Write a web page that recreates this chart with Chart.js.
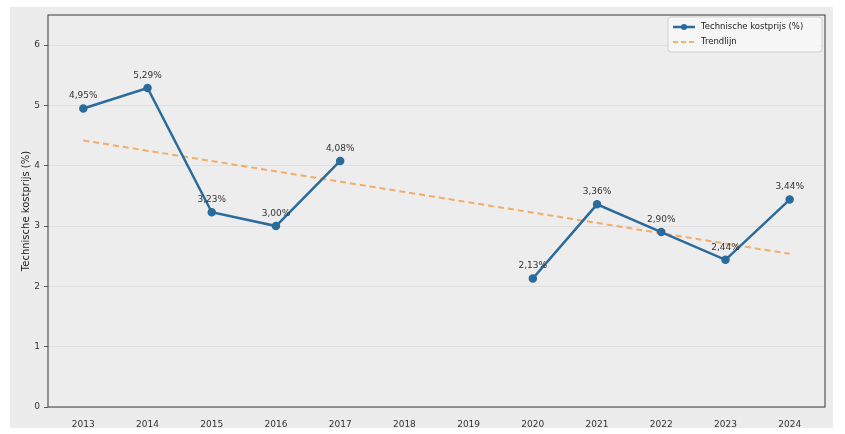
<!DOCTYPE html>
<html>
<head>
<meta charset="utf-8">
<script src="https://cdn.jsdelivr.net/npm/chart.js@4"></script>
<style>
  html, body { margin: 0; padding: 0; background: #ffffff; }
  #wrap { width: 845px; height: 434px; position: relative; }
</style>
</head>
<body>
<div id="wrap"><canvas id="myChart" width="845" height="434"></canvas></div>
<script>
// Data-----
const years = [2013, 2014, 2015, 2016, 2017, 2018, 2019, 2020, 2021, 2022, 2023, 2024];
const kostprijs = [4.95, 5.29, 3.23, 3.00, 4.08, null, null, 2.13, 3.36, 2.90, 2.44, 3.44];
const trendYears = [2013, 2024];
const trendValues = [4.42, 2.54];
const yTicks = [0, 1, 2, 3, 4, 5, 6];
// Data-----

const blue = '#2a6b9c';
const orange = 'rgba(245,150,60,0.75)';
const tickFont = {family: 'DejaVu Sans', size: 9};

// panel background + plot frame
const backdrop = {
    id: 'backdrop',
    beforeDraw(chart) {
        const ctx = chart.ctx;
        const a = chart.chartArea;
        ctx.save();
        ctx.fillStyle = '#ececec';
        ctx.fillRect(10, 7, 823, 421);
        ctx.fillStyle = '#ededed';
        ctx.fillRect(a.left, a.top, a.right - a.left, a.bottom - a.top);
        ctx.restore();
    },
    afterDraw(chart) {
        const ctx = chart.ctx;
        const a = chart.chartArea;
        ctx.save();
        ctx.strokeStyle = '#555555';
        ctx.lineWidth = 1.2;
        ctx.strokeRect(a.left, a.top, a.right - a.left, a.bottom - a.top);
        ctx.restore();
    }
};

// value labels above the points
const valueLabels = {
    id: 'valueLabels',
    afterDatasetsDraw(chart) {
        const ctx = chart.ctx;
        const meta = chart.getDatasetMeta(0);
        ctx.save();
        ctx.font = '9px "DejaVu Sans"';
        ctx.fillStyle = '#333333';
        ctx.textAlign = 'center';
        ctx.textBaseline = 'bottom';
        meta.data.forEach((pt, i) => {
            const v = kostprijs[i];
            if (v === null) return;
            ctx.fillText(v.toFixed(2).replace('.', ',') + '%', pt.x, pt.y - 8);
        });
        ctx.restore();
    }
};

// legend box in the upper right corner
const cornerLegend = {
    id: 'cornerLegend',
    afterDraw(chart) {
        const ctx = chart.ctx;
        const x = 668, y = 17, w = 154, h = 35;
        ctx.save();
        ctx.fillStyle = 'rgba(246,246,246,0.9)';
        ctx.strokeStyle = '#cfcfcf';
        ctx.lineWidth = 1;
        ctx.beginPath();
        ctx.roundRect(x, y, w, h, 3);
        ctx.fill();
        ctx.stroke();

        ctx.strokeStyle = blue;
        ctx.lineWidth = 2.5;
        ctx.beginPath();
        ctx.moveTo(673, 27);
        ctx.lineTo(695, 27);
        ctx.stroke();
        ctx.fillStyle = blue;
        ctx.beginPath();
        ctx.arc(684, 27, 3, 0, Math.PI * 2);
        ctx.fill();

        ctx.strokeStyle = orange;
        ctx.lineWidth = 2;
        ctx.setLineDash([5, 3]);
        ctx.beginPath();
        ctx.moveTo(673, 42);
        ctx.lineTo(695, 42);
        ctx.stroke();
        ctx.setLineDash([]);

        ctx.fillStyle = '#222222';
        ctx.font = '8.5px "DejaVu Sans"';
        ctx.textBaseline = 'middle';
        ctx.fillText('Technische kostprijs (%)', 701, 27);
        ctx.fillText('Trendlijn', 701, 42);
        ctx.restore();
    }
};

// Config-----
const config = {
    type: 'line',
    data: {
        datasets: [{
            label: 'Technische kostprijs (%)',
            data: years.map((yr, i) => ({x: yr, y: kostprijs[i]})),
            borderColor: blue,
            backgroundColor: blue,
            borderWidth: 2.5,
            pointRadius: 3,
            pointHoverRadius: 3,
            spanGaps: false
        }, {
            label: 'Trendlijn',
            data: trendYears.map((yr, i) => ({x: yr, y: trendValues[i]})),
            borderColor: orange,
            borderWidth: 2,
            borderDash: [6, 4],
            pointRadius: 0
        }]
    },
    options: {
        responsive: false,
        animation: false,
        layout: {padding: {left: 20, right: 20, top: 15, bottom: 0}},
        plugins: {
            legend: {display: false},
            tooltip: {enabled: false}
        },
        scales: {
            x: {
                type: 'linear',
                min: 2012.45,
                max: 2024.55,
                afterBuildTicks(scale) {
                    scale.ticks = years.map(v => ({value: v}));
                },
                afterFit(scale) { scale.height = 27; },
                grid: {display: false, drawTicks: true},
                border: {display: false},
                ticks: {
                    color: '#333333',
                    font: tickFont,
                    padding: 4,
                    maxRotation: 0,
                    callback: v => String(v)
                }
            },
            y: {
                min: 0,
                max: 6.5,
                afterBuildTicks(scale) {
                    scale.ticks = yTicks.map(v => ({value: v}));
                },
                afterFit(scale) { scale.width = 28; },
                border: {display: false},
                grid: {
                    color: 'rgba(0,0,0,0.05)',
                    tickColor: '#5a5a5a',
                    tickLength: 4
                },
                ticks: {
                    color: '#333333',
                    font: tickFont,
                    padding: 4
                },
                title: {
                    display: true,
                    text: 'Technische kostprijs (%)',
                    color: '#222222',
                    font: {family: 'DejaVu Sans', size: 10},
                    padding: {top: 0, bottom: 2}
                }
            }
        }
    },
    plugins: [backdrop, valueLabels, cornerLegend]
};
// Config-----

var myChart = new Chart(
    document.getElementById('myChart'),
    config
);
</script>
</body>
</html>
